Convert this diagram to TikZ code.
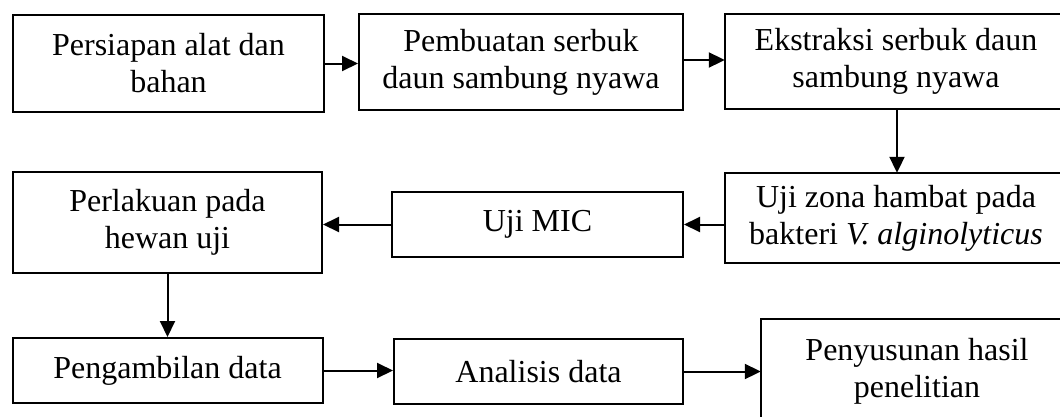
\documentclass[tikz,border=0pt]{standalone}
\usepackage{fontspec}
\setmainfont{Liberation Serif}
\usetikzlibrary{arrows.meta,calc}
\begin{document}
\begin{tikzpicture}[x=1pt,y=-1pt,
  box/.style={draw=black,line width=2pt,rectangle,inner sep=0pt,align=center,
    font=\fontsize{32}{37}\selectfont},
  open/.style={rectangle,inner sep=0pt,align=center,font=\fontsize{32}{37}\selectfont},
  edge/.style={line width=2pt,line join=miter},
  arr/.style={line width=2pt,-{Triangle[length=16pt,width=15pt]}}]
\useasboundingbox (0,0) rectangle (1060,416);
\clip (0,0) rectangle (1060,416);
\fill[white] (0,0) rectangle (1060,416);
\node[box,minimum width=311pt,minimum height=97pt] (A) at (168.5,63.5) {Persiapan alat dan\\bahan};
\node[box,minimum width=324pt,minimum height=96pt] (B) at (521,62) {Pembuatan serbuk\\daun sambung nyawa};
\node[open,minimum width=342pt,minimum height=95pt] (C) at (896,61.5) {Ekstraksi serbuk daun\\sambung nyawa};
\node[box,minimum width=309pt,minimum height=101pt] (D) at (167.5,222.5) {Perlakuan pada\\hewan uji};
\node[box,minimum width=291pt,minimum height=65pt] (E) at (537.5,224.5) {Uji MIC};
\node[open,minimum width=342pt,minimum height=90pt] (F) at (896,218) {Uji zona hambat pada\\bakteri \textit{V. alginolyticus}};
\node[box,minimum width=310pt,minimum height=65pt] (G) at (167.5,370.5) {Pengambilan data};
\node[box,minimum width=289pt,minimum height=65pt] (H) at (538.5,371.5) {Analisis data};
\node[open,minimum width=312pt,minimum height=104pt] (I) at (917,371) {Penyusunan hasil\\penelitian};
% boxes cut by the picture's edge: only their visible sides
\draw[edge] (C.north east) -- (C.north west) -- (C.south west) -- (C.south east);
\draw[edge] (F.north east) -- (F.north west) -- (F.south west) -- (F.south east);
\draw[edge] (I.north east) -- (I.north west) -- (I.south west);
\draw[arr] (A.east) -- (A.east -| B.west);
\draw[arr] ([yshift=2pt]B.east) -- ([yshift=2pt]B.east -| C.west);
\draw[arr] ([xshift=1pt]C.south) -- ([xshift=1pt]C.south |- F.north);
\draw[arr] (E.east -| F.west) -- (E.east);
\draw[arr] (E.west) -- (E.west -| D.east);
\draw[arr] (D.south) -- (G.north);
\draw[arr] (G.east) -- (G.east -| H.west);
\draw[arr] (H.east) -- (H.east -| I.west);
\end{tikzpicture}
\end{document}
